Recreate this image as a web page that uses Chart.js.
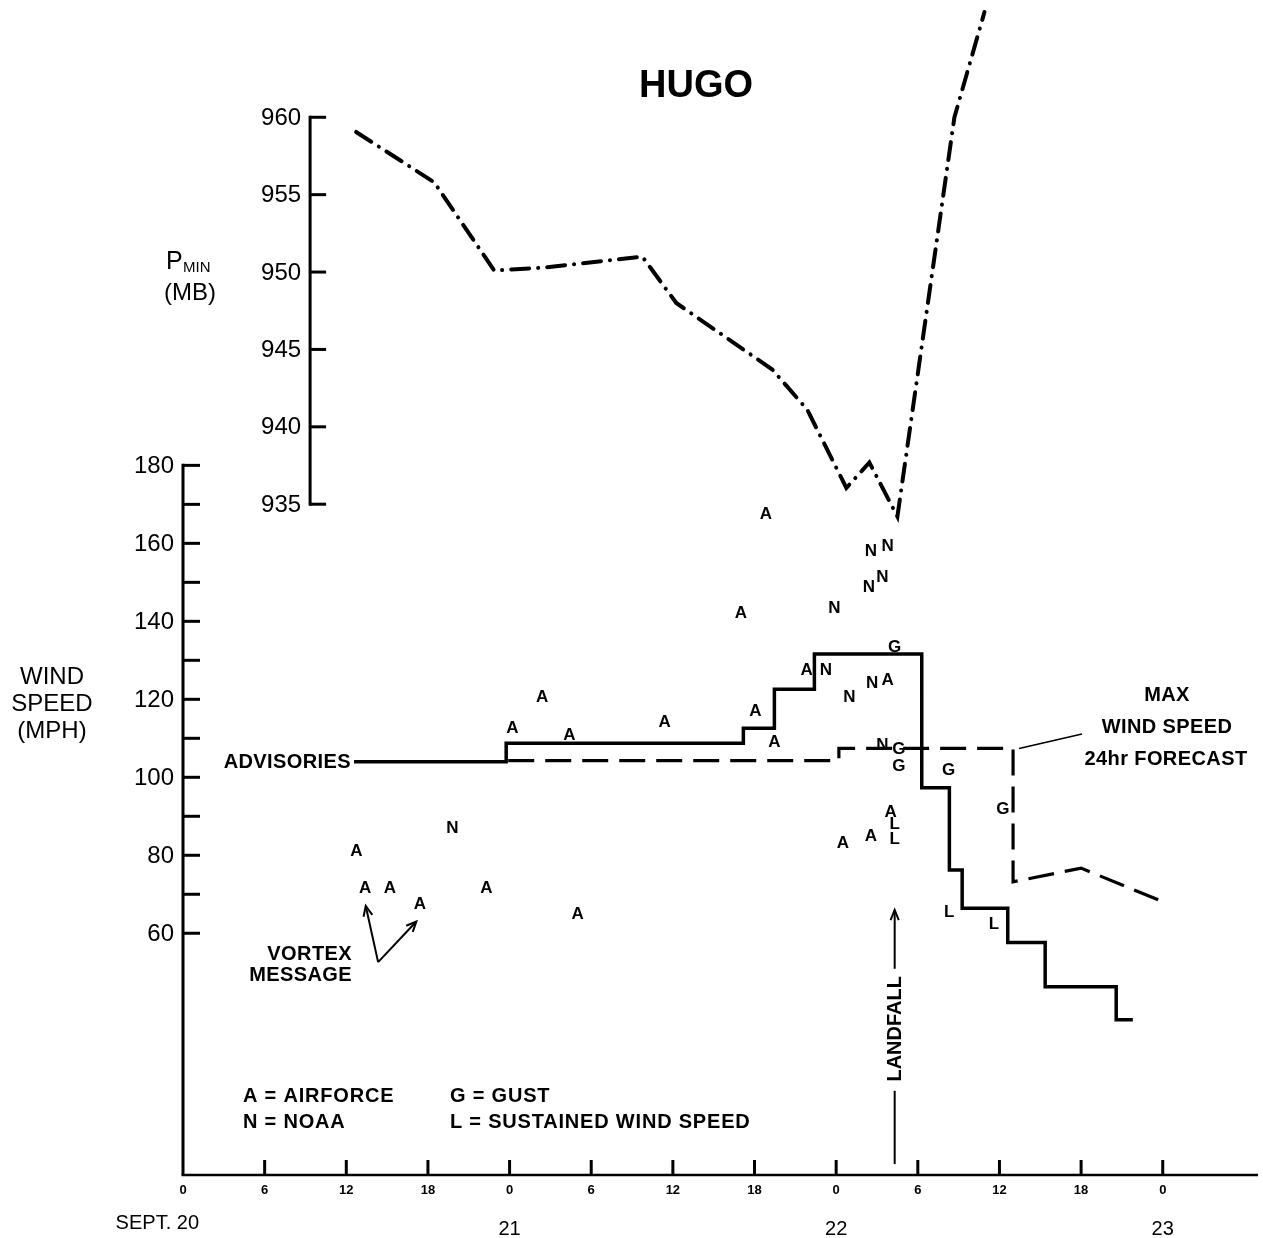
<!DOCTYPE html>
<html><head><meta charset="utf-8">
<script src="https://cdn.jsdelivr.net/npm/chart.js@4.4.1/dist/chart.umd.min.js"></script>
<style>html,body{margin:0;padding:0;background:#fff}#wrap{width:1263px;height:1238px;position:relative}</style>
</head><body><div id="wrap"><canvas id="c" width="1263" height="1238"></canvas></div>
<script>
// ---- axis ticks / labels ----
const hourTicks = [0,6,12,18,24,30,36,42,48,54,60,66,72];
const hourTickLabels = ['0','6','12','18','0','6','12','18','0','6','12','18','0'];
const dayTicks = [0,24,48,72];
const dayLabels = ['SEPT. 20','21','22','23'];
const windTicks = [60,70,80,90,100,110,120,130,140,150,160,170,180];
const windTickLabels = ['60','','80','','100','','120','','140','','160','','180'];
const pressureTicks = [960,955,950,945,940,935];
const pressureTickLabels = ['960','955','950','945','940','935'];
const pressureAxisHour = [9.34];

// ---- series: minimum central pressure (mb) ----
const pressureHours  = [12.72,18.46,22.87,26.69,33.75,36.25,43.31,45.88,48.75,50.44,52.5,56.69,58.9];
const pressureValues = [959.05,955.8,950.1,950.3,951.0,948.0,943.7,941.1,936.05,937.7,934.2,960.0,966.8];

// ---- series: advisories max wind (mph), step line ----
const advisoryHours  = [12.57,23.75,41.18,43.46,46.4,54.29,56.32,57.26,60.61,63.36,68.58,69.8];
const advisorySpeeds = [104,108.7,112.6,122.6,131.6,97.3,76.2,66.4,57.6,46.3,37.8,37.8];

// ---- series: 24hr forecast max wind (mph) ----
const forecastHours  = [23.9,48.2,48.2,61.0,61.0,66.0,72.0];
const forecastSpeeds = [104.3,104.3,107.4,107.4,73.2,76.7,68.1];

// ---- series: reconnaissance observations (A = Air Force, N = NOAA, G = gust, L = sustained) ----
const reconLetters = ['A','A','A','A','N','A','A','A','A','A','A','A','A','A','A','A',
  'N','N','N','N','N','N','N','N','N','A','G','G','G','A','L','L','A','A','G','G','L','L'];
const reconHours = [12.74,13.38,15.2,17.4,19.8,22.29,24.2,26.4,28.4,29.0,35.4,41.0,42.06,42.84,43.46,45.83,
  47.87,47.25,48.97,50.55,51.79,50.4,51.4,50.64,51.4,51.79,52.3,52.6,52.6,52.0,52.3,52.3,50.55,48.5,56.27,60.25,56.3,59.6];
const reconSpeeds = [81.2,71.8,71.8,67.7,87.2,71.8,112.8,120.7,111.1,65.1,114.3,142.2,117.3,167.8,109.1,127.7,
  143.6,127.7,120.7,158.3,159.6,148.9,151.6,124.3,108.5,125.1,133.5,107.4,103.2,91.2,88.2,84.4,85.2,83.2,102.1,92.05,65.5,62.6];

// ---- annotations (in data units) ----
const landfallHour = 52.3;
const landfallArrow = {tip:66, textCenter:35.5, bottom:0.8};
const vortexArrow = {fromH:14.34, fromV:52.6, to:[[13.43,67.0],[17.15,63.0]]};

const FONT = "'Liberation Sans', Arial, Helvetica, sans-serif";
const f = (s,b)=>(b?'bold ':'')+s+'px '+FONT;

function arrowHead(ctx,x1,y1,x2,y2,len,ang){
  const a=Math.atan2(y2-y1,x2-x1);
  ctx.beginPath();
  ctx.moveTo(x2-len*Math.cos(a-ang),y2-len*Math.sin(a-ang));
  ctx.lineTo(x2,y2);
  ctx.lineTo(x2-len*Math.cos(a+ang),y2-len*Math.sin(a+ang));
  ctx.stroke();
}
function spaced(ctx, px){ if('letterSpacing' in ctx) ctx.letterSpacing = px+'px'; }

const drawPlugin = {
  id:'hugoDraw',
  afterDatasetsDraw(chart){
    const ctx=chart.ctx, ca=chart.chartArea;
    const xs=chart.scales.x, yw=chart.scales.yWind, yp=chart.scales.yPress;
    ctx.save();
    ctx.fillStyle='#000'; ctx.strokeStyle='#000';

    // recon letters at their data points
    const meta = chart.getDatasetMeta(3);
    ctx.font=f(17,true); ctx.textAlign='center'; ctx.textBaseline='middle';
    meta.data.forEach((el,i)=>{ ctx.fillText(reconLetters[i], el.x, el.y+1); });

    // wind axis
    ctx.lineCap='butt';
    ctx.lineWidth=3;
    ctx.beginPath(); ctx.moveTo(ca.left, yw.getPixelForValue(180)-1.5); ctx.lineTo(ca.left, ca.bottom); ctx.stroke();
    ctx.font=f(24,false); ctx.textAlign='right'; ctx.textBaseline='middle';
    windTicks.forEach((v,i)=>{
      const y=yw.getPixelForValue(v);
      ctx.beginPath(); ctx.moveTo(ca.left,y); ctx.lineTo(ca.left+17,y); ctx.stroke();
      if(windTickLabels[i]) ctx.fillText(windTickLabels[i], ca.left-9, y+1);
    });

    // x axis
    ctx.lineWidth=2.5;
    ctx.beginPath(); ctx.moveTo(ca.left-1.5, ca.bottom); ctx.lineTo(ca.right, ca.bottom); ctx.stroke();
    ctx.lineWidth=3;
    ctx.font=f(13,true); ctx.textAlign='center'; ctx.textBaseline='middle';
    hourTicks.forEach((h,i)=>{
      const x=xs.getPixelForValue(h);
      if(h>0){ ctx.beginPath(); ctx.moveTo(x,ca.bottom); ctx.lineTo(x,ca.bottom-15); ctx.stroke(); }
      ctx.fillText(hourTickLabels[i], x, ca.bottom+15);
    });
    ctx.font=f(20,false);
    dayTicks.forEach((h,i)=>{
      const x=xs.getPixelForValue(h);
      if(i===0){ ctx.textAlign='right'; ctx.fillText(dayLabels[i], x+16, ca.bottom+48); }
      else { ctx.textAlign='center'; ctx.fillText(dayLabels[i], x, ca.bottom+54); }
    });

    // pressure axis
    const px=xs.getPixelForValue(pressureAxisHour[0]);
    ctx.lineWidth=3;
    ctx.beginPath(); ctx.moveTo(px, yp.getPixelForValue(960)-1.5); ctx.lineTo(px, yp.getPixelForValue(935)+1.5); ctx.stroke();
    ctx.font=f(24,false); ctx.textAlign='right'; ctx.textBaseline='middle';
    pressureTicks.forEach((v,i)=>{
      const y=yp.getPixelForValue(v);
      ctx.beginPath(); ctx.moveTo(px,y); ctx.lineTo(px+16,y); ctx.stroke();
      ctx.fillText(pressureTickLabels[i], px-9, y+1);
    });

    // title
    ctx.font=f(38,true); ctx.textAlign='center'; ctx.textBaseline='middle';
    ctx.fillText('HUGO', 696, 87);

    // P_MIN (MB)
    ctx.textAlign='left'; ctx.textBaseline='alphabetic';
    ctx.font=f(25,false); ctx.fillText('P', 166, 269);
    ctx.font=f(15,false); ctx.fillText('MIN', 183, 272);
    ctx.textAlign='center'; ctx.font=f(24,false); ctx.textBaseline='middle';
    ctx.fillText('(MB)', 190, 293);

    // WIND SPEED (MPH)
    ctx.fillText('WIND', 52, 677);
    ctx.fillText('SPEED', 52, 704);
    ctx.fillText('(MPH)', 52, 731);

    // ADVISORIES label
    ctx.font=f(20,true); ctx.textAlign='right'; spaced(ctx,0.4);
    ctx.fillText('ADVISORIES', xs.getPixelForValue(advisoryHours[0])-3, yw.getPixelForValue(advisorySpeeds[0])+1);

    // MAX WIND SPEED 24hr FORECAST
    ctx.textAlign='center';
    ctx.fillText('MAX', 1167, 695);
    ctx.fillText('WIND SPEED', 1167, 727);
    ctx.fillText('24hr FORECAST', 1166, 759);
    ctx.lineWidth=1.5;
    ctx.beginPath();
    ctx.moveTo(xs.getPixelForValue(forecastHours[3])+6, yw.getPixelForValue(forecastSpeeds[3]));
    ctx.lineTo(1082, 734); ctx.stroke();

    // VORTEX MESSAGE
    ctx.textAlign='right';
    ctx.fillText('VORTEX', 352, 954);
    ctx.fillText('MESSAGE', 352, 975);
    ctx.lineWidth=2;
    const vx=xs.getPixelForValue(vortexArrow.fromH), vy=yw.getPixelForValue(vortexArrow.fromV);
    vortexArrow.to.forEach(t=>{
      const tx=xs.getPixelForValue(t[0]), ty=yw.getPixelForValue(t[1]);
      ctx.beginPath(); ctx.moveTo(vx,vy); ctx.lineTo(tx,ty); ctx.stroke();
      arrowHead(ctx,vx,vy,tx,ty,11,0.42);
    });

    // LANDFALL
    spaced(ctx,0);
    const lx=xs.getPixelForValue(landfallHour);
    const ltip=yw.getPixelForValue(landfallArrow.tip), lc=yw.getPixelForValue(landfallArrow.textCenter), lb=yw.getPixelForValue(landfallArrow.bottom);
    ctx.lineWidth=2;
    ctx.beginPath(); ctx.moveTo(lx,lb); ctx.lineTo(lx,lc+62); ctx.stroke();
    ctx.beginPath(); ctx.moveTo(lx,lc-60); ctx.lineTo(lx,ltip); ctx.stroke();
    arrowHead(ctx,lx,lc,lx,ltip,11,0.38);
    ctx.save(); ctx.translate(lx,lc); ctx.rotate(-Math.PI/2);
    ctx.font=f(20,true); ctx.textAlign='center'; ctx.textBaseline='middle';
    ctx.fillText('LANDFALL',0,1); ctx.restore();

    // legend
    ctx.font=f(20,true); ctx.textAlign='left'; ctx.textBaseline='middle'; spaced(ctx,0.8);
    ctx.fillText('A = AIRFORCE', 243, 1096);
    ctx.fillText('N = NOAA', 243, 1122);
    ctx.fillText('G = GUST', 450, 1096);
    ctx.fillText('L = SUSTAINED WIND SPEED', 450, 1122);
    spaced(ctx,0);

    ctx.restore();
  }
};

const pts=(xs,ys)=>xs.map((x,i)=>({x, y:ys[i]}));

new Chart(document.getElementById('c'), {
  type:'scatter',
  data:{datasets:[
    {type:'line', label:'P min', data:pts(pressureHours,pressureValues), yAxisID:'yPress',
     borderColor:'#000', borderWidth:4, borderDash:[18,9,0.1,9], borderCapStyle:'round',
     pointRadius:0, fill:false, tension:0, clip:false},
    {type:'line', label:'Advisories', data:pts(advisoryHours,advisorySpeeds), yAxisID:'yWind',
     borderColor:'#000', borderWidth:3.5, stepped:true, pointRadius:0, fill:false, borderJoinStyle:'miter'},
    {type:'line', label:'24hr forecast', data:pts(forecastHours,forecastSpeeds), yAxisID:'yWind',
     borderColor:'#000', borderWidth:3.2, borderDash:[26,11], pointRadius:0, fill:false, tension:0},
    {type:'scatter', label:'Recon', data:pts(reconHours,reconSpeeds), yAxisID:'yWind',
     pointRadius:0, showLine:false}
  ]},
  options:{
    responsive:false, animation:false, devicePixelRatio:1,
    layout:{padding:{left:183,right:5,top:8,bottom:63}},
    plugins:{legend:{display:false}, tooltip:{enabled:false}},
    events:[],
    scales:{
      x:{type:'linear', min:0, max:79, display:false},
      yWind:{type:'linear', min:-2, max:297.3, display:false},
      yPress:{type:'linear', min:891.66, max:967.06, display:false}
    }
  },
  plugins:[drawPlugin]
});
</script></body></html>
